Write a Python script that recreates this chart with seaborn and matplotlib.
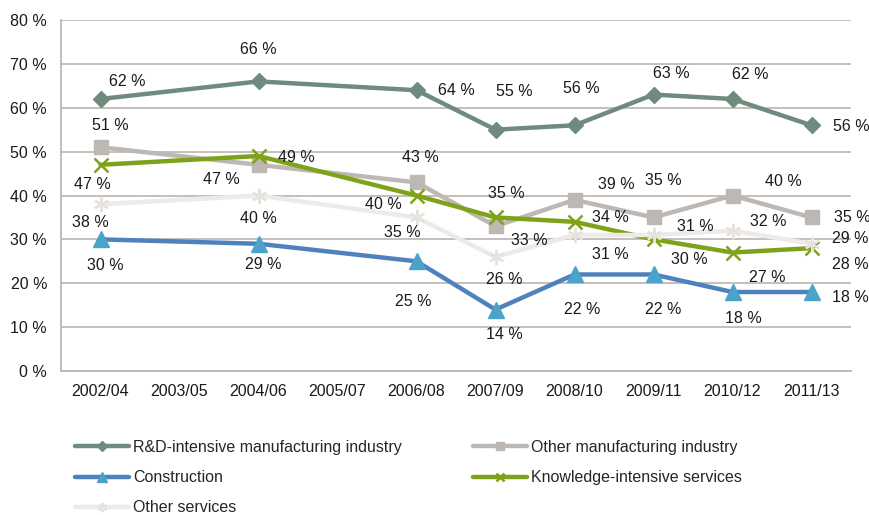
import numpy as np
import pandas as pd
import matplotlib
matplotlib.use("Agg")
import matplotlib.pyplot as plt
import seaborn as sns

# Period categories (2003/05 and 2005/07 have no survey values)
periods = ["2002/04", "2003/05", "2004/06", "2005/07", "2006/08",
           "2007/09", "2008/10", "2009/11", "2010/12", "2011/13"]
observed = ["2002/04", "2004/06", "2006/08", "2007/09",
            "2008/10", "2009/11", "2010/12", "2011/13"]

# Shares in percent per sector
rd_manufacturing = [62, 66, 64, 55, 56, 63, 62, 56]
other_manufacturing = [51, 47, 43, 33, 39, 35, 40, 35]
construction = [30, 29, 25, 14, 22, 22, 18, 18]
knowledge_services = [47, 49, 40, 35, 34, 30, 27, 28]
other_services = [38, 40, 35, 26, 31, 31, 32, 29]

y_ticks = [0, 10, 20, 30, 40, 50, 60, 70, 80]

# label offsets (pixels, dx right / dy up) for the value annotations
rd_off = [(27, 17), (0, 32), (40, 0), (19, 38), (7, 37), (18, 21), (18, 24), (40, -1)]
om_off = [(10, 22), (-37, -15), (4, 25), (34, -14), (42, 15), (10, 37), (51, 14), (41, 0)]
co_off = [(5, -26), (5, -21), (-3, -40), (9, -25), (8, -35), (10, -35), (11, -26), (39, -5)]
ks_off = [(-8, -20), (38, -1), (-33, -9), (11, 24), (36, 4), (36, -20), (35, -25), (39, -16)]
os_off = [(-10, -18), (0, -23), (-14, -15), (9, -23), (36, -20), (42, 8), (36, 9), (39, 5)]

series = [
    dict(name="R&D-intensive manufacturing industry", values=rd_manufacturing,
         color="#6F8B7D", mcolor="#6F8B7D", marker="D", ms=8, mew=1, off=rd_off),
    dict(name="Other manufacturing industry", values=other_manufacturing,
         color="#BEB8B4", mcolor="#BEB8B4", marker="s", ms=10, mew=1, off=om_off),
    dict(name="Construction", values=construction,
         color="#4F81BD", mcolor="#4BA3C9", marker="^", ms=11, mew=1, off=co_off),
    dict(name="Knowledge-intensive services", values=knowledge_services,
         color="#7EA31A", mcolor="#7EA31A", marker="x", ms=10, mew=1.8, off=ks_off),
    dict(name="Other services", values=other_services,
         color="#EDEAE7", mcolor="#E6E2DE", marker=(6, 2, 0), ms=11, mew=1.6, off=os_off),
]

FS = 11.5
TEXT = "#1a1a1a"
AXIS_GREY = "#BDB8B3"

sns.set_theme(style="white")
plt.rcParams["font.family"] = ["Liberation Sans", "DejaVu Sans"]

fig = plt.figure(figsize=(8.7, 5.15), dpi=100)
ax = fig.add_axes([61 / 870, 1 - 371 / 515, 790 / 870, 351 / 515])

xpos = [periods.index(p) for p in observed]
handles = {}
for s in series:
    df = pd.DataFrame({"x": xpos, "y": s["values"]})
    sns.lineplot(data=df, x="x", y="y", ax=ax, color=s["color"], linewidth=3.2,
                 marker=s["marker"], markersize=s["ms"], markerfacecolor=s["mcolor"],
                 markeredgecolor=s["mcolor"], markeredgewidth=s["mew"], zorder=3)
    handles[s["name"]] = ax.lines[-1]
    for xi, v, (dx, dy) in zip(xpos, s["values"], s["off"]):
        ax.annotate(f"{v} %", (xi, v), xytext=(dx, dy), textcoords="offset pixels",
                    ha="center", va="center", fontsize=FS, color=TEXT, zorder=5)

ax.set_xlim(-0.5, len(periods) - 0.5)
ax.set_ylim(0, 80)
ax.set_yticks(y_ticks)
ax.set_yticklabels([f"{t} %" for t in y_ticks], fontsize=FS, color=TEXT)
ax.set_xticks(range(len(periods)))
ax.set_xticklabels(periods, fontsize=FS, color=TEXT)
ax.set_xticks(np.arange(-0.5, len(periods), 1.0), minor=True)
ax.tick_params(axis="x", which="major", length=0, pad=9)
ax.tick_params(axis="x", which="minor", length=5, width=1.2, color=AXIS_GREY, direction="out")
ax.tick_params(axis="y", length=5, width=1.2, color=AXIS_GREY, direction="out", pad=5)
ax.set_xlabel("")
ax.set_ylabel("")
ax.grid(axis="y", color="#BFBAB5", linewidth=1.3, zorder=0)
ax.grid(axis="x", visible=False)
for side in ["top", "right"]:
    ax.spines[side].set_visible(False)
for side in ["left", "bottom"]:
    ax.spines[side].set_color(AXIS_GREY)
    ax.spines[side].set_linewidth(1.3)

order = ["R&D-intensive manufacturing industry", "Construction", "Other services",
         "Other manufacturing industry", "Knowledge-intensive services"]
leg = fig.legend([handles[n] for n in order], order, ncol=2, loc="upper left",
                 bbox_to_anchor=(75 / 870, 1 - 440 / 515), frameon=False, fontsize=FS,
                 handlelength=3.4, handletextpad=0.25, labelspacing=0.95,
                 columnspacing=4.45, markerscale=0.6, borderaxespad=0, borderpad=0)

fig.savefig("out.png", dpi=100)
